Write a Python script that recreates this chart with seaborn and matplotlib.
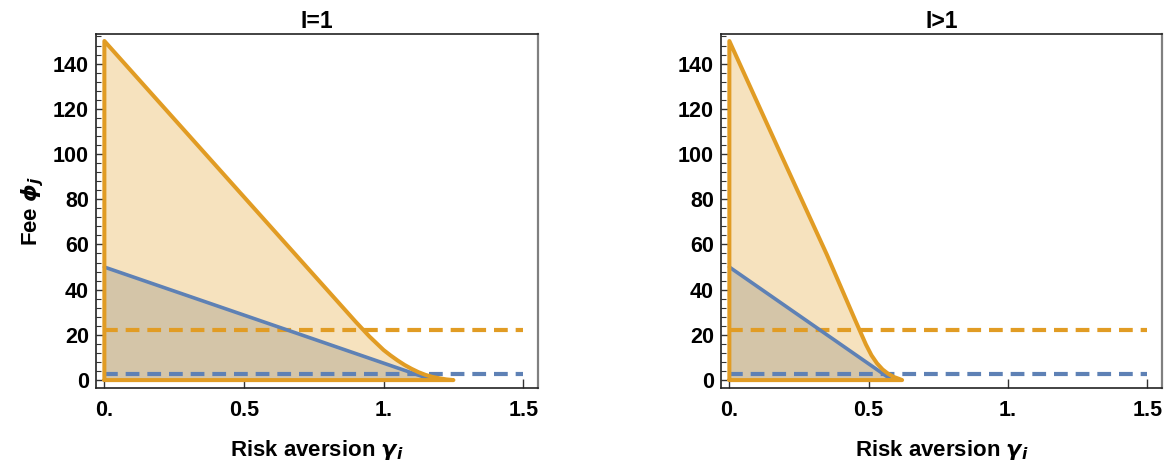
import numpy as np
import pandas as pd
import matplotlib
matplotlib.use("Agg")
import matplotlib.pyplot as plt
from matplotlib.ticker import MultipleLocator, FixedLocator, NullLocator
import seaborn as sns

# data
gamma_left_orange = [0, 0.9, 0.95, 1.0, 1.025, 1.05, 1.075, 1.1, 1.125, 1.15, 1.175, 1.2, 1.225, 1.25]
fee_left_orange = [150, 25.8, 19.2, 13.3, 10.9, 8.7, 6.7, 5.0, 3.5, 2.3, 1.4, 0.8, 0.3, 0]
gamma_left_blue = [0, 1.16]
fee_left_blue = [50, 0.7]

gamma_right_orange = [0, 0.19, 0.35, 0.45, 0.47, 0.49, 0.51, 0.53, 0.55, 0.57, 0.59, 0.61, 0.62]
fee_right_orange = [150, 98.5, 55.5, 27.0, 21.4, 15.8, 11.0, 7.4, 4.7, 2.8, 1.4, 0.5, 0]
gamma_right_blue = [0, 0.576]
fee_right_blue = [50, 0.7]

orange_threshold = 22
blue_threshold = 2.5
gamma_max = 1.5

titles = ["I=1", "I>1"]
x_ticks = [0, 0.5, 1.0, 1.5]
x_tick_labels = ["0.", "0.5", "1.", "1.5"]
y_ticks = [0, 20, 40, 60, 80, 100, 120, 140]

ORANGE = "#E19C24"
BLUE = "#5E81B5"
ORANGE_FILL = "#F6E2BE"
OVERLAP_FILL = "#D4C5A8"

sns.set_style("ticks")
plt.rcParams["font.family"] = ["Liberation Sans", "DejaVu Sans"]
plt.rcParams["mathtext.fontset"] = "custom"
plt.rcParams["mathtext.it"] = "DejaVu Sans:italic:bold"
plt.rcParams["mathtext.rm"] = "Liberation Sans:bold"
plt.rcParams["text.color"] = "black"
plt.rcParams["axes.labelcolor"] = "black"
plt.rcParams["xtick.color"] = "black"
plt.rcParams["ytick.color"] = "black"

fig = plt.figure(figsize=(11.69, 4.70), dpi=100)
ax1 = fig.add_axes([96 / 1169, 82 / 470, 442 / 1169, 354 / 470])
ax2 = fig.add_axes([721 / 1169, 82 / 470, 441 / 1169, 354 / 470])

panels = [
    (ax1, gamma_left_orange, fee_left_orange, gamma_left_blue, fee_left_blue),
    (ax2, gamma_right_orange, fee_right_orange, gamma_right_blue, fee_right_blue),
]

dash = (0, (3.3, 1.9))
for i, (ax, go, fo, gb, fb) in enumerate(panels):
    # filled regions
    ax.fill_between(go, 0, fo, color=ORANGE_FILL, lw=0, zorder=1)
    ax.fill_between(gb, 0, fb, color=OVERLAP_FILL, lw=0, zorder=2)

    # thresholds
    thr = pd.DataFrame({"gamma": [0, gamma_max, 0, gamma_max],
                        "fee": [orange_threshold, orange_threshold, blue_threshold, blue_threshold],
                        "kind": ["orange", "orange", "blue", "blue"]})
    sns.lineplot(data=thr, x="gamma", y="fee", hue="kind", palette={"orange": ORANGE, "blue": BLUE},
                 estimator=None, sort=False, linewidth=3.0, ax=ax, legend=False, zorder=4)
    for line in ax.get_lines():
        line.set_linestyle(dash)

    # blue boundary
    sns.lineplot(x=gb, y=fb, color=BLUE, linewidth=2.6, estimator=None, sort=False, ax=ax, zorder=5)

    # orange boundary (closed outline)
    ox = [0] + list(go) + [0]
    oy = [0] + list(fo) + [0]
    sns.lineplot(x=ox, y=oy, color=ORANGE, linewidth=2.9, estimator=None, sort=False, ax=ax, zorder=6)

    ax.set_xlim(-0.03, 1.553)
    ax.set_ylim(-3.5, 153.1)
    ax.xaxis.set_major_locator(FixedLocator(x_ticks))
    ax.set_xticklabels(x_tick_labels)
    ax.xaxis.set_minor_locator(NullLocator())
    ax.yaxis.set_major_locator(FixedLocator(y_ticks))
    ax.yaxis.set_minor_locator(MultipleLocator(4))
    ax.tick_params(which="both", direction="in", top=False, right=False, color="#333333")
    ax.tick_params(which="major", length=6.5, width=1.0, labelsize=15.5)
    ax.tick_params(which="minor", length=3.5, width=0.8)
    ax.tick_params(axis="x", which="major", pad=9)
    ax.tick_params(axis="y", which="major", pad=5)
    for lab in ax.get_xticklabels() + ax.get_yticklabels():
        lab.set_fontweight("bold")

    for side in ["left", "bottom", "top"]:
        ax.spines[side].set_color("#222222")
        ax.spines[side].set_linewidth(1.2)
    ax.spines["right"].set_color("#808080")
    ax.spines["right"].set_linewidth(1.6)

    ax.set_title(titles[i], fontsize=16.5, fontweight="bold", pad=4)
    ax.set_xlabel(r"Risk aversion $\gamma_i$", fontsize=16, fontweight="bold", labelpad=12)
    ax.set_ylabel("")

ax1.set_ylabel(r"Fee $\phi_j$", fontsize=16, fontweight="bold", labelpad=5)

fig.savefig("out.png", dpi=100)
